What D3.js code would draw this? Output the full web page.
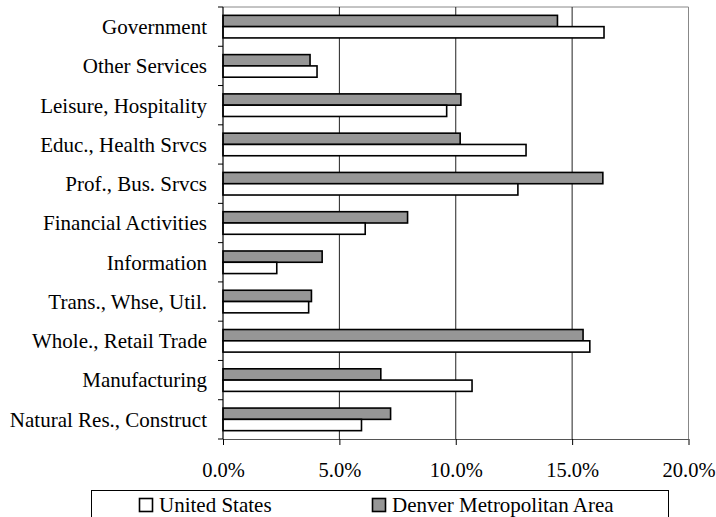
<!DOCTYPE html>
<html>
<head>
<meta charset="utf-8">
<script src="https://cdn.jsdelivr.net/npm/d3@7"></script>
<style>
  body { margin: 0; background: #fff; }
  svg { display: block; }
  svg text { font-family: "Times New Roman", "Liberation Serif", Times, "DejaVu Serif", serif; }
</style>
</head>
<body>
<svg id="chart" width="716" height="517"></svg>
<script>
// industries, listed top to bottom
const categories = [
  "Government", "Other Services", "Leisure, Hospitality", "Educ., Health Srvcs",
  "Prof., Bus. Srvcs", "Financial Activities", "Information", "Trans., Whse, Util.",
  "Whole., Retail Trade", "Manufacturing", "Natural Res., Construct"
];
const denver = [14.37, 3.74, 10.22, 10.19, 16.32, 7.93, 4.26, 3.80, 15.47, 6.78, 7.20];
const unitedStates = [16.37, 4.04, 9.61, 13.02, 12.67, 6.11, 2.31, 3.68, 15.76, 10.70, 5.95];
const xTicks = [0, 5, 10, 15, 20];
const seriesNames = ["Denver Metropolitan Area", "United States"];

const svg = d3.select("#chart");
const plotL = 223, plotR = 688.5, plotT = 7, plotB = 439;

let x = d3.scaleLinear().domain([0, 20]).range([plotL, plotR]);
let y = d3.scaleBand().domain(categories).range([plotT, plotB]);

let groupH = y.bandwidth() * 0.575;
let inner = d3.scaleBand().domain(seriesNames)
  .range([(y.bandwidth() - groupH) / 2, (y.bandwidth() + groupH) / 2]);

let fills = { "Denver Metropolitan Area": "#969696", "United States": "#fff" };

// frame (top + right in grey)
svg.append("path")
  .attr("d", `M${plotL},${plotT}H${plotR}V${plotB}`)
  .attr("fill", "none").attr("stroke", "#888").attr("stroke-width", 1);

// gridlines
svg.append("g").selectAll("line")
  .data(xTicks.slice(1, -1))
  .enter().append("line")
  .attr("x1", d => x(d)).attr("x2", d => x(d))
  .attr("y1", plotT).attr("y2", plotB)
  .attr("stroke", "#222").attr("stroke-width", 1);

// bars
let rows = categories.map((c, i) => ({
  cat: c,
  vals: [
    { s: seriesNames[0], v: denver[i] },
    { s: seriesNames[1], v: unitedStates[i] }
  ]
}));

let groups = svg.append("g").selectAll("g")
  .data(rows)
  .enter().append("g")
  .attr("transform", d => `translate(0,${y(d.cat)})`);

groups.selectAll("rect")
  .data(d => d.vals)
  .enter().append("rect")
  .attr("x", x(0))
  .attr("y", d => inner(d.s))
  .attr("width", d => x(d.v) - x(0))
  .attr("height", inner.bandwidth())
  .attr("fill", d => fills[d.s])
  .attr("stroke", "#000")
  .attr("stroke-width", 1.6);

// x axis
let xAxis = svg.append("g")
  .attr("transform", `translate(0,${plotB})`)
  .call(d3.axisBottom(x).tickValues(xTicks).tickSize(6).tickPadding(17)
    .tickFormat(d => d.toFixed(1) + "%"));
xAxis.attr("font-family", null).attr("font-size", null);
xAxis.select(".domain").attr("stroke", "#555").attr("d", `M${plotL},0.5H${plotR}`);
xAxis.selectAll(".tick line").attr("stroke", "#000");
xAxis.selectAll("text").style("font-size", "20.5px").attr("fill", "#000");

// y axis
let yTickPos = categories.map(c => y(c)).concat([plotB]);
let yAxis = svg.append("g");
yAxis.append("line")
  .attr("x1", plotL).attr("x2", plotL).attr("y1", plotT).attr("y2", plotB)
  .attr("stroke", "#000").attr("stroke-width", 1.2);
yAxis.selectAll(".tk")
  .data(yTickPos)
  .enter().append("line")
  .attr("x1", plotL - 5).attr("x2", plotL)
  .attr("y1", d => d).attr("y2", d => d)
  .attr("stroke", "#000");
yAxis.selectAll("text")
  .data(categories)
  .enter().append("text")
  .attr("x", plotL - 16)
  .attr("y", d => y(d) + y.bandwidth() / 2)
  .attr("dy", "0.35em")
  .attr("text-anchor", "end")
  .style("font-size", "21px")
  .text(d => d);

// legend
let legend = svg.append("g");
legend.append("rect")
  .attr("x", 91.5).attr("y", 490.5).attr("width", 577).attr("height", 40)
  .attr("fill", "#fff").attr("stroke", "#000");

let legendItems = [
  { s: "United States", x: 139 },
  { s: "Denver Metropolitan Area", x: 372 }
];
let li = legend.selectAll(".item")
  .data(legendItems)
  .enter().append("g")
  .attr("transform", d => `translate(${d.x},498)`);
li.append("rect")
  .attr("x", 0.5).attr("y", 0.5).attr("width", 13).attr("height", 13)
  .attr("fill", d => fills[d.s]).attr("stroke", "#000").attr("stroke-width", 1.6);
li.append("text")
  .attr("x", 20).attr("y", 7)
  .attr("dy", "0.35em")
  .style("font-size", "21px")
  .text(d => d.s);
</script>
</body>
</html>
